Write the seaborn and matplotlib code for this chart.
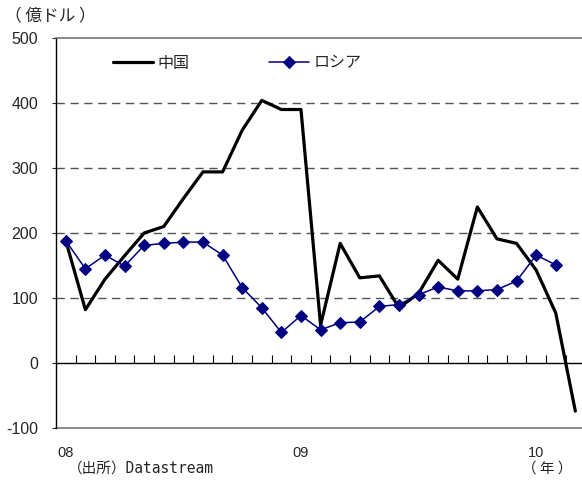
import matplotlib
matplotlib.use("Agg")
import matplotlib.pyplot as plt
import matplotlib.transforms as mtransforms
import numpy as np
import pandas as pd
import seaborn as sns

# monthly, Jan 2008 .. Mar 2010 (億ドル)
months = pd.period_range("2008-01", "2010-03", freq="M").astype(str).tolist()
china = [188, 82, 129, 165, 200, 210, 253, 294, 294, 358, 404, 390, 390,
         58, 184, 131, 134, 85, 107, 158, 129, 240, 191, 184, 143, 77, -74]
russia = [188, 145, 166, 149, 181, 184, 186, 186, 166, 116, 85, 47, 73,
          51, 62, 63, 87, 90, 105, 117, 111, 111, 113, 126, 166, 151, None]
year_labels = ["08", "09", "10"]
year_pos = [0, 12, 24]
y_ticks = [-100, 0, 100, 200, 300, 400, 500]

df = pd.DataFrame({"month": months, "中国": china, "ロシア": russia})
df["idx"] = np.arange(len(df))

sns.set_style("white")
plt.rcParams["font.family"] = ["Liberation Sans", "Noto Sans CJK JP", "DejaVu Sans"]

fig = plt.figure(figsize=(5.82, 4.83), dpi=100)
ax = fig.add_axes([56 / 582, 55 / 483, 1 - 56 / 582, 390 / 483])

sns.lineplot(data=df, x="idx", y="中国", ax=ax, color="black", lw=2.3, label="中国")
sns.lineplot(data=df.dropna(subset=["ロシア"]), x="idx", y="ロシア", ax=ax,
             color="#000080", lw=1.1, marker="D", markersize=6,
             markeredgecolor="#000080", label="ロシア")

ax.set_xlim(-0.5, 26.34)
ax.set_ylim(-100, 500)

# dashed grid
for v in [100, 200, 300, 400]:
    ax.axhline(v, color="#555555", ls=(0, (6, 4)), lw=1.0, zorder=0)
ax.axhline(-100, color="#777777", lw=1.2, clip_on=False, zorder=0)

ax.spines["right"].set_visible(False)
ax.spines["top"].set_color("#777777")
ax.spines["top"].set_linewidth(1.2)
ax.spines["left"].set_color("black")
ax.spines["left"].set_linewidth(1.0)
ax.spines["bottom"].set_position(("data", 0))
ax.spines["bottom"].set_color("black")
ax.spines["bottom"].set_linewidth(1.0)

ax.set_xticks(np.arange(0.5, 26.5, 1.0))
ax.tick_params(axis="x", direction="in", length=6, width=0.8, labelbottom=False,
               bottom=True, color="black")
ax.set_yticks(y_ticks)
ax.set_yticklabels([str(v) for v in y_ticks], fontsize=11.5)
ax.tick_params(axis="y", direction="out", length=3, width=0.8, left=True, pad=10)
ax.set_xlabel("")
ax.set_ylabel("")

trans = mtransforms.blended_transform_factory(ax.transData, ax.transAxes)
for p, lab in zip(year_pos, year_labels):
    ax.text(p, -0.065, lab, transform=trans, ha="center", va="center", fontsize=10.5)

fig.text(5 / 582, 1 - 16 / 483, "（ 億ドル ）", fontsize=12, ha="left", va="center",
         family=["Noto Sans CJK JP"])
fig.text(68 / 582, 1 - 469 / 483, "（出所）Datastream", fontsize=10.5, ha="left",
         va="center", family=["DejaVu Sans Mono", "Noto Sans CJK JP"])
fig.text(522 / 582, 1 - 469 / 483, "（ 年 ）", fontsize=10.5, ha="left", va="center",
         family=["Noto Sans CJK JP"])

ax.legend(loc="upper left", bbox_to_anchor=(0.108, 0.955), ncol=2, frameon=False,
          fontsize=11.5, handlelength=2.5, handletextpad=0.3, columnspacing=5.0,
          borderpad=0, borderaxespad=0)

fig.savefig("out.png", dpi=100)
